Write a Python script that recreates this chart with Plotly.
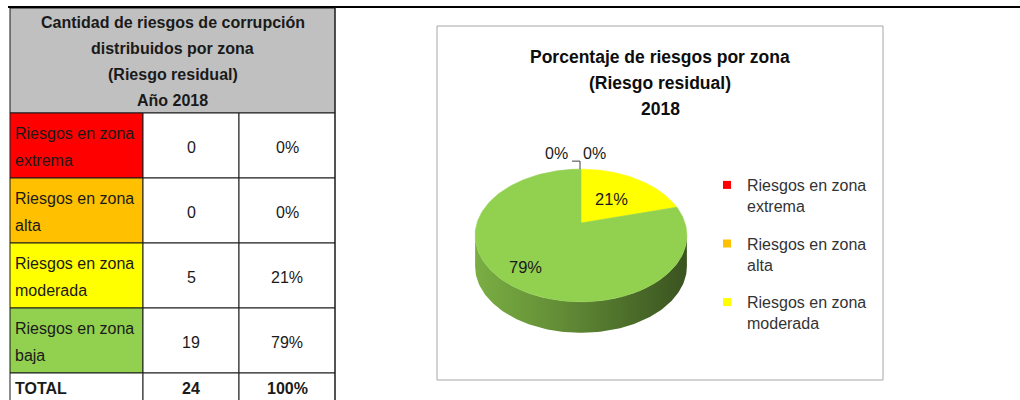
import numpy as np
import plotly.graph_objects as go

# ---------------- data ----------------
zone_label_lines = [["Riesgos en zona", "extrema"], ["Riesgos en zona", "alta"],
                    ["Riesgos en zona", "moderada"], ["Riesgos en zona", "baja"]]
risk_counts = [0, 0, 5, 19]
zone_colors = ["#ff0000", "#ffc000", "#ffff00", "#92d050"]
table_title_lines = ["Cantidad de riesgos de corrupción", "distribuidos por zona",
                     "(Riesgo residual)", "Año 2018"]
chart_title_lines = ["Porcentaje de riesgos por zona", "(Riesgo residual)", "2018"]
total_label = "TOTAL"
legend_visible_items = 3

# ---------------- derived ----------------
total = sum(risk_counts)
pcts = [round(100 * c / total) for c in risk_counts]
total_pct = round(100 * total / total)

NARROW = "Liberation Sans Narrow, Arial Narrow, Liberation Sans, Arial, sans-serif"
TXT = "#1a1a1a"
FS = 16

fig = go.Figure()
shapes = []
ann = []

# ---------------- table ----------------
col_x = [10, 143, 239, 335]
head_top, head_bot = 8, 113
row_h = 65

shapes.append(dict(type="rect", x0=col_x[0], x1=col_x[3], y0=head_top, y1=head_bot,
                   fillcolor="#c0c0c0", line=dict(color=TXT, width=1), layer="below"))
for i, line in enumerate(table_title_lines):
    ann.append(dict(x=(col_x[0] + col_x[3]) / 2, y=22 + i * 26, text="<b>%s</b>" % line,
                    showarrow=False, xanchor="center", yanchor="middle",
                    font=dict(family=NARROW, size=FS, color=TXT)))

for r in range(len(risk_counts)):
    top = head_bot + r * row_h
    bot = top + row_h
    shapes.append(dict(type="rect", x0=col_x[0], x1=col_x[1], y0=top, y1=bot,
                       fillcolor=zone_colors[r], line=dict(color=TXT, width=1), layer="below"))
    for c in (1, 2):
        shapes.append(dict(type="rect", x0=col_x[c], x1=col_x[c + 1], y0=top, y1=bot,
                           fillcolor="white", line=dict(color=TXT, width=1), layer="below"))
    for j, t in enumerate(zone_label_lines[r]):
        ann.append(dict(x=col_x[0] + 3, y=top + 20 + j * 27, text=t, showarrow=False,
                        xanchor="left", yanchor="middle",
                        font=dict(family=NARROW, size=FS, color=TXT)))
    ann.append(dict(x=(col_x[1] + col_x[2]) / 2, y=top + 34, text=str(risk_counts[r]),
                    showarrow=False, xanchor="center", yanchor="middle",
                    font=dict(family=NARROW, size=FS, color=TXT)))
    ann.append(dict(x=(col_x[2] + col_x[3]) / 2, y=top + 34, text="%d%%" % pcts[r],
                    showarrow=False, xanchor="center", yanchor="middle",
                    font=dict(family=NARROW, size=FS, color=TXT)))

ttop = head_bot + len(risk_counts) * row_h
for c in range(3):
    shapes.append(dict(type="rect", x0=col_x[c], x1=col_x[c + 1], y0=ttop, y1=ttop + 60,
                       fillcolor="white", line=dict(color=TXT, width=1), layer="below"))
for x, t, anc in [(col_x[0] + 3, total_label, "left"),
                  ((col_x[1] + col_x[2]) / 2, str(total), "center"),
                  ((col_x[2] + col_x[3]) / 2, "%d%%" % total_pct, "center")]:
    ann.append(dict(x=x, y=ttop + 15, text="<b>%s</b>" % t, showarrow=False,
                    xanchor=anc, yanchor="middle",
                    font=dict(family=NARROW, size=FS, color=TXT)))

# page lines
shapes.append(dict(type="line", x0=8, x1=1020, y0=7, y1=7, line=dict(color="#000000", width=2)))
shapes.append(dict(type="line", x0=col_x[3], x1=col_x[3], y0=7, y1=400,
                   line=dict(color=TXT, width=1)))

# ---------------- chart box ----------------
shapes.append(dict(type="rect", x0=437, x1=883, y0=26, y1=380, fillcolor="white",
                   line=dict(color="#a6a6a6", width=1), layer="below"))
for i, line in enumerate(chart_title_lines):
    ann.append(dict(x=660, y=57 + i * 26, text="<b>%s</b>" % line, showarrow=False,
                    xanchor="center", yanchor="middle",
                    font=dict(family=NARROW, size=17.5, color="#0d0d0d")))

# ---------------- 3D pie ----------------
CX, CY = 581, 223
RX, RY, P = 104, 64, 0.188
DEPTH = 31


def pt(theta_deg, f=1.0, dy=0.0):
    t = np.radians(theta_deg)
    k = 1.0 / (1.0 + P * np.cos(t))
    return CX + RX * np.sin(t) * k * f, CY - RY * np.cos(t) * k * f + dy


def shade(hexcol, f):
    h = hexcol.lstrip("#")
    r, g, b = (int(h[i:i + 2], 16) for i in (0, 2, 4))
    return "rgb(%d,%d,%d)" % (r * f, g * f, b * f)


cum = np.concatenate([[0], np.cumsum(risk_counts)])
angles = 360.0 * cum / total
theta_w = np.degrees(np.arccos(-P))

# side walls (front part only)
for i in range(len(risk_counts)):
    a0, a1 = max(angles[i], theta_w), min(angles[i + 1], 360 - theta_w)
    if a1 <= a0:
        continue
    th = np.linspace(a0, a1, 120)
    xt, yt = pt(th)
    xb, yb = pt(th[::-1], dy=DEPTH)
    xs = np.concatenate([xt, xb, xt[:1]])
    ys = np.concatenate([yt, yb, yt[:1]])
    xl, _ = pt(360 - theta_w)
    xr, _ = pt(theta_w)
    fig.add_trace(go.Scatter(
        x=xs, y=ys, mode="lines", fill="toself", line=dict(width=0, color="rgba(0,0,0,0)"),
        fillgradient=dict(type="horizontal", start=xl, stop=xr,
                          colorscale=[[0, shade(zone_colors[i], 0.84)],
                                      [0.35, shade(zone_colors[i], 0.70)],
                                      [0.7, shade(zone_colors[i], 0.54)],
                                      [1, shade(zone_colors[i], 0.40)]]),
        showlegend=False, hoverinfo="skip"))

# top faces
for i in range(len(risk_counts)):
    if risk_counts[i] == 0:
        continue
    th = np.linspace(angles[i], angles[i + 1], 200)
    xa, ya = pt(th)
    xs = np.concatenate([[CX], xa, [CX]])
    ys = np.concatenate([[CY], ya, [CY]])
    fig.add_trace(go.Scatter(
        x=xs, y=ys, mode="lines", fill="toself", fillcolor=zone_colors[i],
        line=dict(width=0.6, color=zone_colors[i]), showlegend=False,
        name=" ".join(zone_label_lines[i]), hoverinfo="name"))

# data labels
label_frac = {2: 0.55, 3: 0.74}
zero_off = [-25, 13]
zi = 0
for i in range(len(risk_counts)):
    mid = (angles[i] + angles[i + 1]) / 2
    if risk_counts[i] > 0:
        lx, ly = pt(mid, f=label_frac.get(i, 0.6))
        ann.append(dict(x=lx, y=ly, text="%d%%" % pcts[i], showarrow=False,
                        xanchor="center", yanchor="middle",
                        font=dict(family=NARROW, size=16.5, color="#1a1a1a")))
    else:
        ex, ey = pt(mid)
        ann.append(dict(x=ex + zero_off[zi % 2], y=ey - 16, text="%d%%" % pcts[i],
                        showarrow=False, xanchor="center", yanchor="middle",
                        font=dict(family=NARROW, size=16, color="#1a1a1a")))
        zi += 1
ex, ey = pt(0)
shapes.append(dict(type="path", path="M %f,%f L %f,%f L %f,%f" % (ex - 9, ey - 8, ex - 1, ey - 8, ex - 1, ey),
                   line=dict(color="#404040", width=1)))

# legend entries
for i in range(legend_visible_items):
    fig.add_trace(go.Scatter(
        x=[None], y=[None], mode="markers",
        marker=dict(symbol="square", size=8, color=zone_colors[i]),
        name="<br>".join(zone_label_lines[i]), legendgroup="g%d" % i))

fig.update_layout(
    width=1020, height=400, margin=dict(l=0, r=0, t=0, b=0),
    paper_bgcolor="white", plot_bgcolor="white",
    xaxis=dict(range=[0, 1020], visible=False, fixedrange=True),
    yaxis=dict(range=[400, 0], visible=False, fixedrange=True),
    shapes=shapes, annotations=ann, showlegend=True,
    legend=dict(x=(747 - 40) / 1020, y=1 - 168 / 400, xanchor="left", yanchor="top",
                valign="top", tracegroupgap=14, bgcolor="rgba(0,0,0,0)",
                font=dict(family=NARROW, size=FS, color="#333333")),
)

fig.write_html("out.html", config={"displayModeBar": False},
               post_script="document.body.style.margin='0px';"
                           "document.body.style.padding='0px';"
                           "document.documentElement.style.overflow='hidden';")
